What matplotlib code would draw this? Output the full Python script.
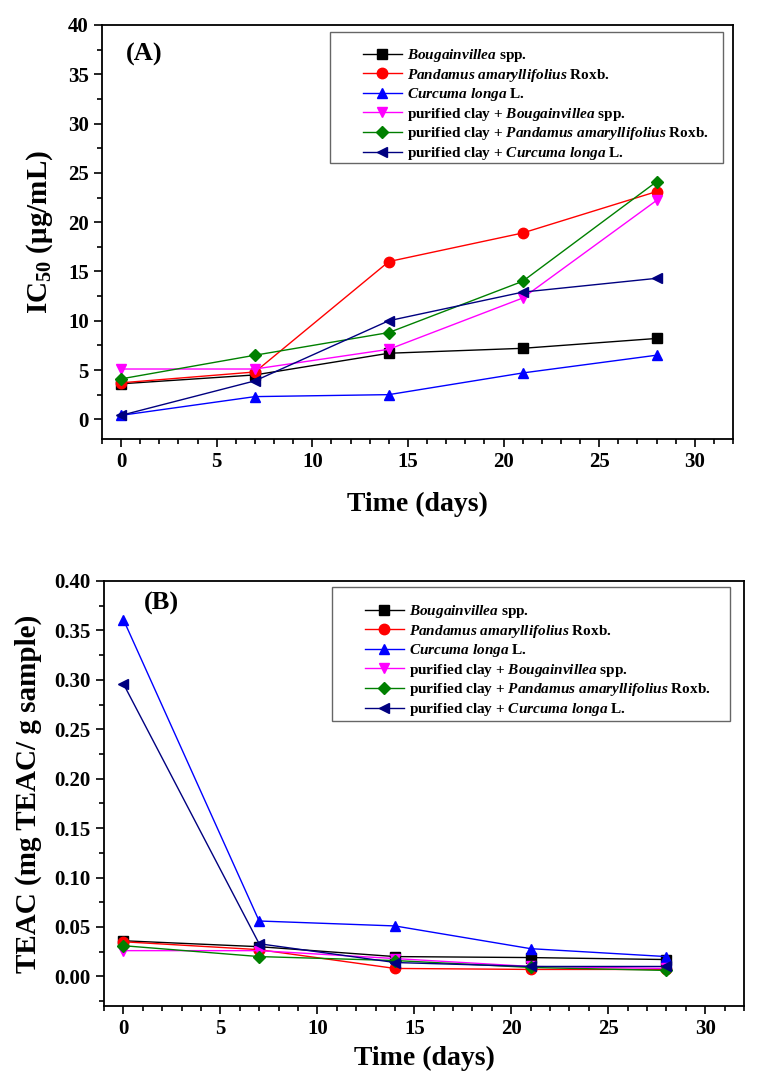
import numpy as np
import matplotlib
matplotlib.use('Agg')
import matplotlib.pyplot as plt
from matplotlib.ticker import MultipleLocator
from matplotlib.patches import Rectangle

plt.rcParams['font.family'] = ['Liberation Serif', 'DejaVu Serif']
plt.rcParams['font.weight'] = 'bold'
plt.rcParams['mathtext.fontset'] = 'custom'
plt.rcParams['mathtext.rm'] = 'Liberation Serif:bold'
plt.rcParams['mathtext.it'] = 'Liberation Serif:bold:italic'
plt.rcParams['mathtext.bf'] = 'Liberation Serif:bold'

W, H = 757, 1078

# time points (days)
days = [0, 7, 14, 21, 28]

# (A) IC50 (ug/mL)
ic_bou = [3.6, 4.5, 6.7, 7.2, 8.2]
ic_pan = [3.7, 4.8, 16.0, 18.9, 23.1]
ic_cur = [0.4, 2.3, 2.5, 4.7, 6.5]
ic_clay_bou = [5.1, 5.1, 7.1, 12.3, 22.2]
ic_clay_pan = [4.1, 6.5, 8.8, 14.0, 24.1]
ic_clay_cur = [0.4, 3.9, 10.0, 12.9, 14.3]

# (B) TEAC (mg TEAC/ g sample)
te_bou = [0.036, 0.030, 0.020, 0.019, 0.017]
te_pan = [0.035, 0.027, 0.008, 0.007, 0.007]
te_cur = [0.361, 0.056, 0.051, 0.028, 0.020]
te_clay_bou = [0.026, 0.026, 0.018, 0.010, 0.008]
te_clay_pan = [0.031, 0.020, 0.016, 0.009, 0.006]
te_clay_cur = [0.296, 0.033, 0.014, 0.010, 0.010]

labels = [r'$\mathit{Bougainvillea}$ spp.',
          r'$\mathit{Pandamus\ amaryllifolius}$ Roxb.',
          r'$\mathit{Curcuma\ longa}$ L.',
          r'purified clay + $\mathit{Bougainvillea}$ spp.',
          r'purified clay + $\mathit{Pandamus\ amaryllifolius}$ Roxb.',
          r'purified clay + $\mathit{Curcuma\ longa}$ L.']
colors = ['black', 'red', 'blue', 'magenta', 'green', 'navy']
markers = ['s', 'o', '^', 'v', 'D', '<']


def panel(ax, series, tag, tagpos, ylabel, ylim, ymajor, yminor, yfmt,
          box, leg_xy, xpad):
    for s, lab, c, m in zip(series, labels, colors, markers):
        ms = 6.5 if m == 'D' else 7.5
        ax.plot(days, s, color=c, marker=m, markersize=ms, lw=1, label=lab)
    ax.set_xlim(-1, 32)
    ax.set_ylim(*ylim)
    ax.xaxis.set_major_locator(MultipleLocator(5))
    ax.xaxis.set_minor_locator(MultipleLocator(1))
    ax.yaxis.set_major_locator(MultipleLocator(ymajor))
    ax.yaxis.set_minor_locator(MultipleLocator(yminor))
    ax.yaxis.set_major_formatter(plt.FormatStrFormatter(yfmt))
    ax.tick_params(which='both', direction='out', top=False, right=False,
                   labelsize=15, width=1.2)
    ax.tick_params(which='major', length=6)
    ax.tick_params(which='minor', length=3.5)
    for sp in ax.spines.values():
        sp.set_linewidth(1.3)
    ax.set_xlabel('Time (days)', fontsize=20, fontweight='bold', labelpad=xpad)
    ax.set_ylabel(ylabel, fontsize=21, fontweight='bold', labelpad=9)
    ax.text(tagpos[0], tagpos[1], tag, transform=ax.transAxes, fontsize=19,
            fontweight='bold', va='center')

    # legend box drawn separately (text sits low inside it)
    x0, y0, x1, y1 = box
    rect = Rectangle((x0 / W, 1 - y1 / H), (x1 - x0) / W, (y1 - y0) / H,
                     transform=fig.transFigure, facecolor='white',
                     edgecolor='0.4', lw=1, zorder=4, clip_on=False)
    ax.add_artist(rect)
    leg = ax.legend(loc='upper left',
                    bbox_to_anchor=(leg_xy[0] / W, 1 - leg_xy[1] / H),
                    bbox_transform=fig.transFigure, fontsize=11,
                    frameon=False, handlelength=2.55, handletextpad=0.33,
                    labelspacing=0.17, borderpad=0, borderaxespad=0)
    leg.set_zorder(5)


fig = plt.figure(figsize=(W / 100, H / 100), dpi=100)
ax1 = fig.add_axes([102 / W, 1 - 439 / H, (733 - 102) / W, (439 - 25) / H])
ax2 = fig.add_axes([104 / W, 1 - 1006 / H, (744 - 104) / W, (1006 - 581) / H])

panel(ax1, [ic_bou, ic_pan, ic_cur, ic_clay_bou, ic_clay_pan, ic_clay_cur],
      '(A)', (0.038, 0.93), r'IC$_{50}$ ($\mathrm{\mu}$g/mL)', (-2, 40),
      5, 2.5, '%d', (330, 32, 723, 163), (363, 47), 14)
panel(ax2, [te_bou, te_pan, te_cur, te_clay_bou, te_clay_pan, te_clay_cur],
      '(B)', (0.0625, 0.948), 'TEAC (mg TEAC/ g sample)', (-0.03, 0.40),
      0.05, 0.025, '%.2f', (332, 587, 730, 721), (365, 603), 5)

fig.savefig('out.png', dpi=100)
